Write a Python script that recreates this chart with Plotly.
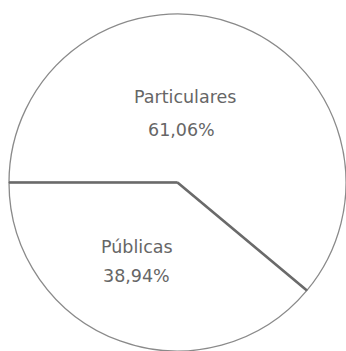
import math
import plotly.graph_objects as go

labels = ["Particulares", "Públicas"]
values = [61.06, 38.94]

def pct(v):
    return f"{v:.2f}".replace(".", ",") + "%"

W, H = 346, 351
L, R, T, B = 9, 0, 14, 0
pw, ph = W - L - R, H - T - B

def px(x):
    return (x - L) / pw

def py(y):
    return 1 - (y - T) / ph

START_DEG = 180  # 9 o'clock, math angle; slices run clockwise

fig = go.Figure(go.Pie(
    labels=labels,
    values=values,
    sort=False,
    direction="clockwise",
    rotation=270,
    textinfo="none",
    hoverinfo="label+percent",
    marker=dict(colors=["#ffffff", "#ffffff"], line=dict(color="#8a8a8a", width=1.3)),
    showlegend=False,
))

# heavier radial dividers derived from the values
total = sum(values)
r_px = min(pw, ph) / 2
cx, cy = 0.5, 0.5
angle = START_DEG
bounds = [angle]
for v in values[:-1]:
    angle -= v / total * 360
    bounds.append(angle)
for a in bounds:
    ex = cx + r_px * math.cos(math.radians(a)) / pw
    ey = cy + r_px * math.sin(math.radians(a)) / ph
    fig.add_shape(type="line", xref="paper", yref="paper", x0=cx, y0=cy, x1=ex, y1=ey,
                  line=dict(color="#6a6a6a", width=2.6))

font = dict(family="DejaVu Sans", size=17.5, color="#666666")
label_pos = {"Particulares": [(185, 97), (181, 129.5)], "Públicas": [(137, 247), (136, 276)]}
for lab, v in zip(labels, values):
    (x1, y1), (x2, y2) = label_pos[lab]
    fig.add_annotation(x=px(x1), y=py(y1), xref="paper", yref="paper", text=lab,
                       showarrow=False, font=font, xanchor="center", yanchor="middle")
    fig.add_annotation(x=px(x2), y=py(y2), xref="paper", yref="paper", text=pct(v),
                       showarrow=False, font=font, xanchor="center", yanchor="middle")

fig.update_layout(
    width=W, height=H,
    margin=dict(l=L, r=R, t=T, b=B),
    paper_bgcolor="white", plot_bgcolor="white",
)
fig.write_html("out.html")
